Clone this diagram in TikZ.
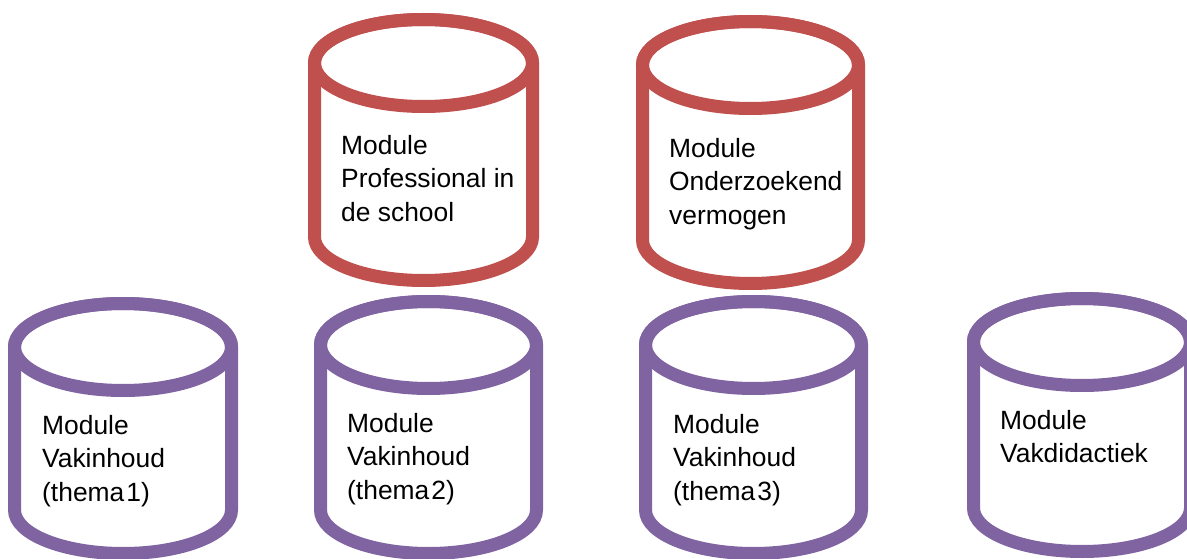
\documentclass[tikz,border=0pt]{standalone}
\usepackage{fontspec}
\setmainfont{Liberation Sans}
\definecolor{cred}{HTML}{C0504D}
\definecolor{cpurple}{HTML}{8064A2}
\newcommand{\drawcyl}[5]{%
 \filldraw[cylline, draw=#1, fill=white] (#2-#3,-#4) -- (#2-#3,-#5) arc[start angle=180,end angle=360,x radius=#3pt,y radius=43.5pt] -- (#2+#3,-#4) arc[start angle=0,end angle=180,x radius=#3pt,y radius=43.5pt] -- cycle;
 \draw[cylline, draw=#1] (#2,-#4) ellipse[x radius=#3pt, y radius=43.5pt];
}
\tikzset{
 cylline/.style={line width=13pt},
 lbl/.style={anchor=base west, align=left, inner sep=0pt, text=black, font=\fontsize{26.4}{33.7}\selectfont}
}
\begin{document}
\begin{tikzpicture}[x=1pt,y=1pt]
\useasboundingbox (0,0) rectangle (1187,-559);
\fill[white] (0,0) rectangle (1187,-559);
\begin{scope}
\clip (0,0) rectangle (1187,-559);
\drawcyl{cred}{423.5}{109}{63}{237}
\drawcyl{cred}{750.5}{108}{65}{240}
\drawcyl{cpurple}{123}{108.5}{347}{510}
\drawcyl{cpurple}{428.5}{108}{345}{510}
\drawcyl{cpurple}{753.5}{108}{345}{510}
\drawcyl{cpurple}{1082}{108.5}{342}{508}
\end{scope}
\node[lbl] (prof) at (341,-221.4) {Module\\Professional in\\de school};
\node[lbl] (onderz) at (669,-224.4) {Module\\Onderzoekend\\vermogen};
\node[lbl] (vak1) at (42,-501.4) {Module\\Vakinhoud\\(thema\kern2pt 1)};
\node[lbl] (vak2) at (347,-499.4) {Module\\Vakinhoud\\(thema\kern2pt 2)};
\node[lbl] (vak3) at (673,-500.4) {Module\\Vakinhoud\\(thema\kern2pt 3)};
\node[lbl] (vakdid) at (1000,-462.7) {Module\\Vakdidactiek};
\end{tikzpicture}
\end{document}
